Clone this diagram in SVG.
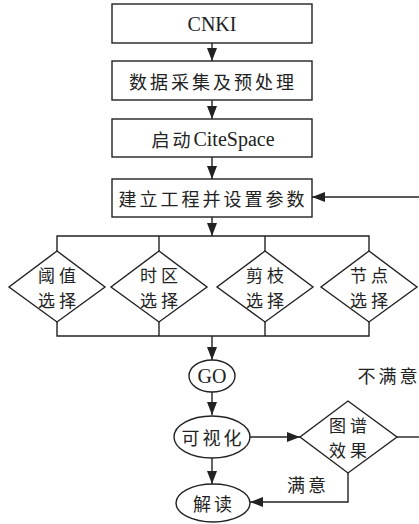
<svg xmlns="http://www.w3.org/2000/svg" width="419" height="524" viewBox="0 0 419 524">
<style>
.box{fill:#fff;stroke:#222;stroke-width:1.4}
.ln{fill:none;stroke:#222;stroke-width:1.4}
.cj{font-family:"Noto Sans CJK SC","Liberation Serif",serif;font-size:18px;letter-spacing:3px;fill:#222;text-anchor:middle;dominant-baseline:central}
.dj{font-family:"Noto Sans CJK SC","Liberation Serif",serif;font-size:17px;letter-spacing:4px;fill:#222;text-anchor:middle;dominant-baseline:central}
.lt{font-family:"Liberation Serif","Noto Sans CJK SC",serif;font-size:20px;fill:#222;text-anchor:middle;dominant-baseline:central}
</style>
<defs>
<marker id="ah" markerUnits="userSpaceOnUse" markerWidth="14" markerHeight="12" refX="13" refY="5" orient="auto">
<path d="M0,0 L13,5 L0,10 Z" fill="#222"/>
</marker>
</defs>
<rect width="419" height="524" fill="#fff"/>
<g id="connectors">
<line class="ln" x1="212" y1="43" x2="212" y2="61" marker-end="url(#ah)"/>
<line class="ln" x1="212" y1="100" x2="212" y2="119" marker-end="url(#ah)"/>
<line class="ln" x1="212" y1="157" x2="212" y2="179" marker-end="url(#ah)"/>
<line class="ln" x1="212" y1="217" x2="212" y2="236" marker-end="url(#ah)"/>
<polyline class="ln" points="57,251 57,236 369,236 369,251"/>
<line class="ln" x1="159" y1="236" x2="159" y2="251"/>
<line class="ln" x1="265" y1="236" x2="265" y2="251"/>
<polyline class="ln" points="57,322 57,336 369,336 369,322"/>
<line class="ln" x1="159" y1="322" x2="159" y2="336"/>
<line class="ln" x1="265" y1="322" x2="265" y2="336"/>
<line class="ln" x1="212" y1="336" x2="212" y2="360" marker-end="url(#ah)"/>
<line class="ln" x1="212" y1="392" x2="212" y2="415" marker-end="url(#ah)"/>
<line class="ln" x1="212" y1="458" x2="212" y2="484" marker-end="url(#ah)"/>
<line class="ln" x1="250" y1="437" x2="300" y2="437" marker-end="url(#ah)"/>
<polyline class="ln" points="348,473 348,502 250,502" marker-end="url(#ah)"/>
<line class="ln" x1="397" y1="437" x2="420" y2="437"/>
<line class="ln" x1="420" y1="197" x2="312" y2="197" marker-end="url(#ah)"/>
<text class="cj" x="308" y="484">满意</text>
<text class="cj" x="389" y="375">不满意</text>
</g>
<g id="n-cnki"><rect class="box" x="112" y="4" width="200" height="39"/><text class="lt" x="212" y="24">CNKI</text></g>
<g id="n-data"><rect class="box" x="112" y="61" width="200" height="39"/><text class="cj" x="213" y="81">数据采集及预处理</text></g>
<g id="n-start"><rect class="box" x="112" y="119" width="200" height="38"/><text class="lt" x="213" y="139"><tspan font-family="Noto Sans CJK SC" font-size="18" letter-spacing="3">启动</tspan>CiteSpace</text></g>
<g id="n-setup"><rect class="box" x="112" y="179" width="200" height="38"/><text class="cj" x="213" y="198">建立工程并设置参数</text></g>
<g id="n-threshold"><polygon class="box" points="57,251 105,287 57,322 9,287"/><text class="dj" x="59" y="274">阈值</text><text class="dj" x="59" y="299">选择</text></g>
<g id="n-time"><polygon class="box" points="159,251 207,287 159,322 111,287"/><text class="dj" x="161" y="274">时区</text><text class="dj" x="161" y="299">选择</text></g>
<g id="n-prune"><polygon class="box" points="265,251 313,287 265,322 217,287"/><text class="dj" x="267" y="274">剪枝</text><text class="dj" x="267" y="299">选择</text></g>
<g id="n-node"><polygon class="box" points="369,251 417,287 369,322 321,287"/><text class="dj" x="371" y="274">节点</text><text class="dj" x="371" y="299">选择</text></g>
<g id="n-go"><ellipse class="box" cx="212" cy="376" rx="23" ry="16"/><text class="lt" x="212" y="376">GO</text></g>
<g id="n-vis"><ellipse class="box" cx="212" cy="437" rx="38" ry="21"/><text class="cj" x="213" y="437">可视化</text></g>
<g id="n-effect"><polygon class="box" points="348,401 397,437 348,473 300,437"/><text class="dj" x="350" y="424">图谱</text><text class="dj" x="350" y="449">效果</text></g>
<g id="n-read"><ellipse class="box" cx="213" cy="503" rx="37" ry="19"/><text class="cj" x="214" y="503">解读</text></g>
</svg>
